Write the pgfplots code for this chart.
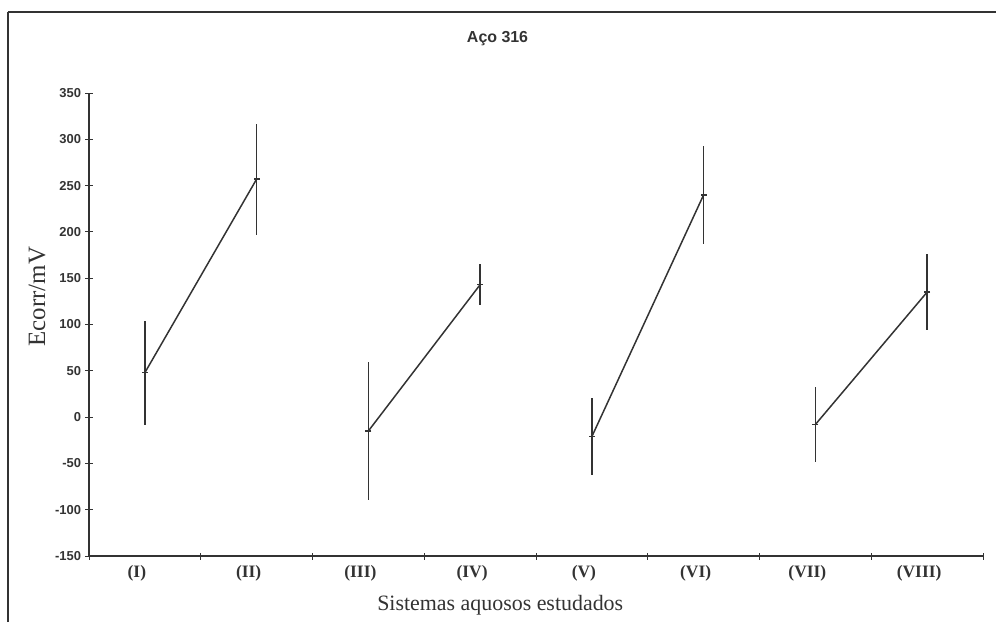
\documentclass[border=0pt]{standalone}
\usepackage{fontspec}
\setmainfont{Liberation Serif}
\newfontfamily\ticksans{Liberation Sans}
\usepackage{pgfplots}
\pgfplotsset{compat=1.18}
\definecolor{ln}{HTML}{333333}
\pgfplotsset{pair/.style={color=ln, line width=1.5pt, mark=-, mark size=3bp,
  mark options={solid, line width=1.5pt},
  error bars/.cd, y dir=both, y explicit, error mark=none,
  error bar style={line width=1.6pt, color=ln}}}
\begin{document}
\begin{tikzpicture}
\begin{axis}[
  scale only axis,
  width=894bp, height=463bp,
  xmin=-0.5, xmax=7.5,
  ymin=-150, ymax=350,
  axis lines*=left,
  axis line style={line width=1.3pt, color=ln},
  ytick={-150,-100,...,350},
  xtick={0,1,2,3,4,5,6,7},
  xticklabels={(I),(II),(III),(IV),(V),(VI),(VII),(VIII)},
  minor xtick={-0.5,0.5,...,7.5},
  major x tick style={draw=none},
  minor tick length=7bp,
  major tick length=7bp,
  tick align=center,
  tick style={line width=0.9pt, color=ln},
  /pgf/number format/assume math mode=true,
  yticklabel style={font=\ticksans\bfseries\fontsize{13}{14}\selectfont, xshift=-1bp, color=ln},
  xticklabel style={font=\bfseries\fontsize{17.5}{20}\selectfont, yshift=-2bp, xshift=-8bp, color=ln},
  xlabel={Sistemas aquosos estudados},
  ylabel={Ecorr/mV},
  xlabel style={font=\fontsize{22}{25}\selectfont, at={(axis description cs:0.46,-0.106)}, anchor=center, color=ln},
  ylabel style={font=\fontsize{25}{28}\selectfont, at={(axis description cs:-0.058,0.56)}, anchor=center, color=ln},
  title={Aço 316},
  title style={font=\ticksans\bfseries\fontsize{16}{19}\selectfont, at={(axis description cs:0.457,1.105)}, anchor=center, color=ln},
  clip=false,
]
\addplot[pair] table[x=x, y=y, y error=e] {
x y e
0 48 56
1 257 60
};
\addplot[pair] table[x=x, y=y, y error=e] {
x y e
2 -15 75
3 143 22
};
\addplot[pair] table[x=x, y=y, y error=e] {
x y e
4 -21 42
5 240 53
};
\addplot[pair] table[x=x, y=y, y error=e] {
x y e
6 -8 40
7 135 41
};
\end{axis}
\begin{scope}[shift={(current axis.south west)}]
\useasboundingbox (-89bp,-68bp) rectangle (907bp,556bp);
\draw[line width=1.2pt, color=ln] (-81bp,-66bp) -- (-81bp,544bp);
\draw[line width=2.5pt, color=ln] (-81bp,544bp) -- (907bp,544bp);
\end{scope}
\end{tikzpicture}
\end{document}
